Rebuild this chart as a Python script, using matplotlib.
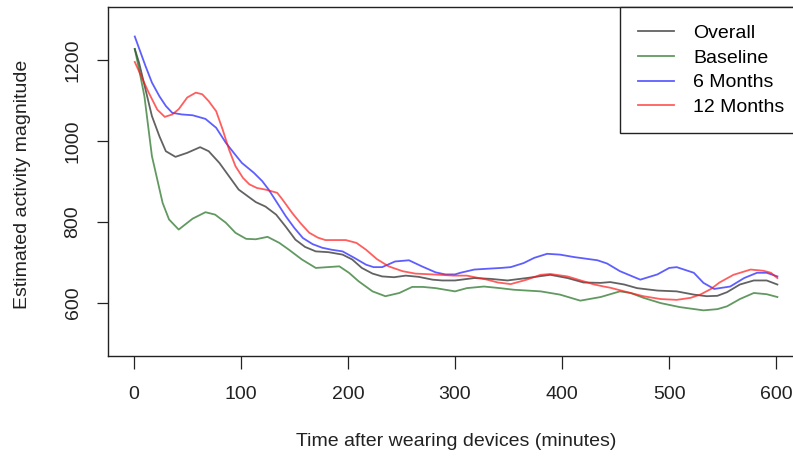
import matplotlib
matplotlib.use("Agg")
import matplotlib.pyplot as plt

plt.rcParams["font.family"] = ["Liberation Sans", "DejaVu Sans"]

# values (minutes, activity magnitude)
overall_x = [1, 5, 11, 17, 24, 30, 39, 50, 62, 70, 80, 89, 98, 114, 123, 133, 142, 151,
             160, 170, 182, 195, 204, 213, 223, 232, 243, 254, 266, 279, 288, 300, 318,
             333, 349, 367, 389, 405, 420, 436, 445, 458, 470, 489, 507, 523, 535, 545,
             554, 566, 579, 591, 601]
overall_y = [1228, 1194, 1128, 1062, 1012, 975, 961, 971, 985, 975, 946, 913, 880, 849, 838,
             818, 788, 756, 738, 727, 725, 719, 707, 686, 672, 665, 663, 667, 664, 657, 655,
             655, 661, 659, 655, 661, 669, 661, 650, 649, 651, 645, 636, 630, 628, 620, 616,
             617, 626, 645, 655, 655, 645]

baseline_x = [1, 5, 10, 17, 27, 33, 42, 55, 67, 76, 86, 95, 105, 114, 125, 136, 145, 157,
              170, 181, 192, 201, 210, 223, 235, 248, 260, 270, 282, 291, 300, 311, 327,
              342, 355, 380, 398, 417, 436, 454, 464, 476, 492, 510, 532, 545, 554, 566,
              579, 591, 601]
baseline_y = [1228, 1178, 1111, 963, 847, 806, 781, 808, 824, 818, 798, 773, 758, 757, 763,
              748, 731, 707, 686, 688, 690, 674, 653, 628, 616, 624, 639, 639, 636, 632, 628,
              636, 640, 636, 632, 628, 620, 605, 614, 628, 624, 612, 599, 589, 581, 584, 591,
              609, 624, 621, 614]

m6_x = [1, 11, 17, 24, 30, 36, 45, 55, 67, 77, 86, 94, 101, 112, 120, 126, 134, 142, 150,
        158, 167, 176, 185, 195, 206, 217, 224, 232, 244, 257, 269, 282, 291, 300, 305,
        318, 330, 343, 352, 364, 374, 386, 398, 411, 433, 442, 454, 473, 489, 500, 507,
        523, 532, 542, 557, 570, 582, 591, 601]
m6_y = [1259, 1186, 1145, 1111, 1087, 1070, 1066, 1064, 1055, 1033, 996, 969, 946, 922,
        901, 880, 847, 814, 785, 760, 745, 736, 731, 727, 711, 694, 688, 688, 702, 705,
        690, 675, 670, 670, 674, 682, 684, 686, 688, 698, 711, 721, 719, 713, 705, 697,
        678, 657, 670, 686, 688, 674, 649, 634, 640, 661, 674, 674, 665]

m12_x = [1, 8, 14, 22, 29, 36, 42, 50, 58, 64, 70, 77, 83, 89, 95, 102, 108, 115, 123,
         134, 139, 148, 156, 164, 172, 179, 189, 198, 208, 217, 227, 238, 251, 263, 279,
         299, 311, 330, 340, 352, 367, 380, 389, 405, 420, 430, 439, 445, 461, 476, 492,
         507, 520, 529, 539, 547, 560, 576, 588, 595, 601]
m12_y = [1196, 1155, 1120, 1078, 1060, 1066, 1079, 1108, 1120, 1116, 1099, 1074, 1029, 979,
         938, 909, 893, 884, 880, 872, 855, 822, 796, 773, 761, 755, 755, 755, 748, 731,
         708, 690, 678, 672, 670, 667, 667, 657, 650, 646, 657, 669, 671, 665, 653, 645,
         640, 637, 626, 616, 609, 607, 612, 620, 634, 650, 669, 682, 679, 674, 661]

labels = ["Overall", "Baseline", "6 Months", "12 Months"]
colors = ["#202020", "#1e6e1e", "#1a1aff", "#ff1a1a"]

fig = plt.figure(figsize=(7.93, 4.59), dpi=100)
ax = fig.add_axes([108 / 793, 103 / 459, 694 / 793, 349 / 459])

series = [(overall_x, overall_y), (baseline_x, baseline_y), (m6_x, m6_y), (m12_x, m12_y)]
for (xs, ys), lab, col in zip(series, labels, colors):
    ax.plot(xs, ys, color=col, alpha=0.7, lw=1.3, label=lab, solid_joinstyle="round")

ax.set_xlim(-24, 624)
ax.set_ylim(468, 1332)
ax.set_xticks([0, 100, 200, 300, 400, 500, 600])
ax.set_yticks([600, 800, 1000, 1200])
ax.tick_params(axis="x", length=9.5, width=0.9, pad=12, labelsize=14, colors="#222222")
ax.tick_params(axis="y", length=8, width=0.9, pad=11, labelsize=14, colors="#222222")
for t in ax.get_yticklabels():
    t.set_rotation(90)
    t.set_va("center")
for s in ax.spines.values():
    s.set_linewidth(1.0)
    s.set_color("#222222")

fig.text(456 / 793, 1 - 441 / 459, "Time after wearing devices (minutes)",
         ha="center", va="center", fontsize=14, color="#222222")
fig.text(23 / 793, 1 - 184 / 459, "Estimated activity magnitude",
         ha="center", va="center", rotation=90, fontsize=14, color="#222222")

leg = ax.legend(loc="upper right", borderaxespad=0, fontsize=14, fancybox=False,
                edgecolor="#222222", framealpha=1, handlelength=1.85, handletextpad=1.0,
                borderpad=0.9, labelspacing=0.36)
leg.get_frame().set_linewidth(1.0)

fig.savefig("out.png", dpi=100)
